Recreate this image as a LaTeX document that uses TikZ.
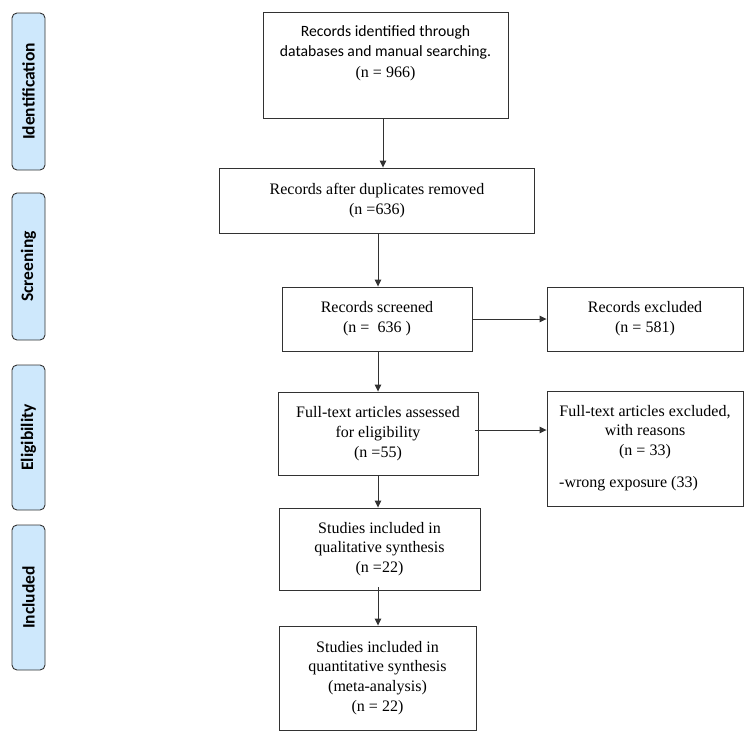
\documentclass[tikz,border=0pt]{standalone}
\usepackage{fontspec}
\setmainfont{Liberation Serif}
\newfontfamily\calfont{Carlito}
\usetikzlibrary{arrows.meta,calc}
\definecolor{sidefill}{RGB}{206,232,252}
\definecolor{lin}{RGB}{50,50,50}
\tikzset{
  box/.style={draw=lin, line width=0.9pt, rectangle, inner sep=0pt, align=center,
    font=\fontsize{16}{19.8}\selectfont},
  side/.style={draw=lin, line width=0.9pt, fill=sidefill, rounded corners=5pt, inner sep=0pt,
    minimum width=33pt},
  sidetext/.style={rotate=90, font=\calfont\bfseries\fontsize{17.5}{20}\selectfont},
  arr/.style={draw=lin, line width=0.9pt, -{Triangle[length=7pt,width=6.5pt]}},
}
\begin{document}
\begin{tikzpicture}[x=1pt,y=-1pt]
\useasboundingbox (0,0) rectangle (754,742);
\coordinate (xa) at (383,0);
\coordinate (xb) at (378,0);
\coordinate (ya) at (0,430);
% side labels
\node[side, minimum height=157pt] (s1) at (28.5,91.5) {};
\node[sidetext] (t1) at (s1.center) {Identification};
\node[side, minimum height=147pt] (s2) at (28.5,266.5) {};
\node[sidetext] (t2) at (s2.center) {Screening};
\node[side, minimum height=145pt] (s3) at (28.5,437.5) {};
\node[sidetext] (t3) at (s3.center) {Eligibility};
\node[side, minimum height=145pt] (s4) at (28.5,597.5) {};
\node[sidetext] (t4) at (s4.center) {Included};
% main boxes
\node[box, minimum width=245pt, minimum height=106pt] (b1) at (385.5,65) {};
\node[align=center, inner sep=0pt, font=\calfont\fontsize{15.7}{20.5}\selectfont] (t1b) at (385.5,53) {Records identified through\\databases and manual searching.\\{\rmfamily\fontsize{16}{20.5}\selectfont (n = 966)}};
\node[box, minimum width=315pt, minimum height=65pt] (b2) at (377,200.5) {Records after duplicates removed\\(n =636)};
\node[box, minimum width=190pt, minimum height=64pt] (b3) at (377,319) {Records screened\\(n =\ \ 636 )};
\node[box, minimum width=196pt, minimum height=64pt] (b4) at (645,319) {Records excluded\\(n = 581)};
\node[box, minimum width=200pt, minimum height=83pt] (b5) at (378,433.5) {Full-text articles assessed\\for eligibility\\(n =55)};
\node[box, minimum width=196pt, minimum height=115pt] (b6) at (645,448.5) {};
\node[align=center, inner sep=0pt, font=\fontsize{16}{19.8}\selectfont] (t6a) at (645,432) {Full-text articles excluded,\\with reasons\\(n = 33)};
\node[anchor=west, inner sep=0pt, font=\fontsize{16}{19.8}\selectfont] (t6b) at (559,484) {-wrong exposure (33)};
\node[box, minimum width=201pt, minimum height=82pt] (b7) at (379.5,549) {Studies included in\\qualitative synthesis\\(n =22)};
\node[box, minimum width=197pt, minimum height=104pt] (b8) at (377.5,678) {Studies included in\\quantitative synthesis\\(meta-analysis)\\(n = 22)};
% arrows
\draw[arr] (b1.south -| xa) -- (b2.north -| xa);
\draw[arr] (b2.south -| xb) -- (b3.north -| xb);
\draw[arr] (b3.east) -- (b4.west);
\draw[arr] (b3.south -| xb) -- (b5.north -| xb);
\draw[arr] ($(b5.east |- ya)+(-3,0)$) -- (b6.west |- ya);
\draw[arr] (b5.south -| xb) -- (b7.north -| xb);
\draw[arr] ($(b7.south -| xb)+(0,-3)$) -- (b8.north -| xb);
\end{tikzpicture}
\end{document}
